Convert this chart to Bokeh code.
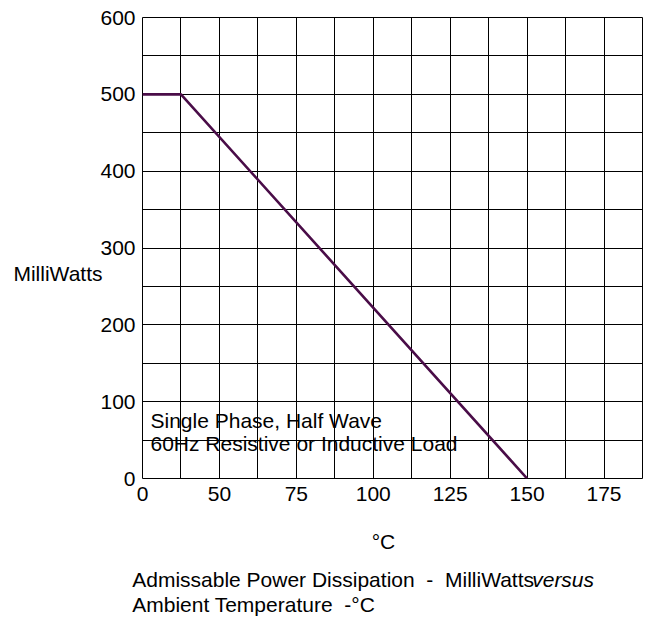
from bokeh.plotting import figure
from bokeh.models import Range1d, FixedTicker, Label, LinearAxis
from bokeh.layouts import column
from bokeh.embed import file_html
from bokeh.resources import INLINE

# ---- data ----
temp_c = [25, 37.5, 150]          # ambient temperature (deg C), as drawn
power_mw = [500, 500, 0]          # admissible power dissipation (mW)

x_tick_values = [25, 50, 75, 100, 125, 150, 175]
x_tick_labels = ["0", "50", "75", "100", "125", "150", "175"]
y_tick_values = [0, 100, 200, 300, 400, 500, 600]
x_grid_values = [25 + 12.5 * k for k in range(14)]
y_grid_values = list(range(0, 601, 50))

FONT = "Liberation Sans"
FS = "21px"
LINE_COLOR = "#4a0d48"
NB = "\u00a0"

p = figure(width=648, height=520, output_backend="svg", toolbar_location=None,
           x_range=Range1d(25, 187.5), y_range=Range1d(0, 600),
           min_border_left=142, min_border_right=6, min_border_top=17, min_border_bottom=42)

p.outline_line_color = "black"
p.outline_line_width = 1
p.outline_line_alpha = 1

p.xgrid.ticker = FixedTicker(ticks=x_grid_values)
p.ygrid.ticker = FixedTicker(ticks=y_grid_values)
for g in (p.xgrid, p.ygrid):
    g.grid_line_color = "black"
    g.grid_line_width = 1
    g.grid_line_alpha = 1

p.xaxis.ticker = FixedTicker(ticks=x_tick_values)
p.xaxis.major_label_overrides = {v: s for v, s in zip(x_tick_values, x_tick_labels)}
p.yaxis.ticker = FixedTicker(ticks=y_tick_values)

# y-axis name as a horizontal label, left of the tick labels
name_axis = LinearAxis(ticker=FixedTicker(ticks=[267.2]),
                       major_label_overrides={267.2: "MilliWatts"})
p.add_layout(name_axis, "left")

for ax in (p.xaxis[0], p.yaxis[0], name_axis):
    ax.axis_line_color = None
    ax.major_tick_line_color = None
    ax.minor_tick_line_color = None
    ax.major_tick_out = 0
    ax.major_tick_in = 0
    ax.major_label_text_font = FONT
    ax.major_label_text_font_size = FS
    ax.major_label_text_color = "black"
p.xaxis.major_label_standoff = 8
p.yaxis[0].major_label_standoff = 7
name_axis.major_label_standoff = -5

p.line(temp_c, power_mw, line_color=LINE_COLOR, line_width=2.6)

def lab(fig, x, y, text, align="left", style="normal"):
    fig.add_layout(Label(x=x, y=y, text=text, text_font=FONT, text_font_size=FS,
                         text_color="black", text_align=align, text_baseline="middle",
                         text_font_style=style))

lab(p, 27.6, 75.5, "Single Phase, Half Wave")
lab(p, 27.6, 45.6, "60Hz Resistive or Inductive Load")

# caption area below the chart (page pixel coordinates, y downward from 520)
p2 = figure(width=648, height=100, output_backend="svg", toolbar_location=None,
            x_range=Range1d(0, 648), y_range=Range1d(100, 0),
            x_axis_type=None, y_axis_type=None,
            min_border_left=0, min_border_right=0, min_border_top=0, min_border_bottom=0)
p2.frame_align = False
p2.outline_line_color = None
p2.xgrid.visible = False
p2.ygrid.visible = False

lab(p2, 383, 20.5, "°C", align="center")
lab(p2, 131.7, 59, "Admissable Power Dissipation" + NB * 2 + "-" + NB * 2 + "MilliWatts")
lab(p2, 531.7, 59, "versus", style="italic")
lab(p2, 131.7, 83.5, "Ambient Temperature" + NB * 2 + "-°C")

layout = column(p, p2, spacing=0)
open("out.html", "w").write(file_html(layout, INLINE))
